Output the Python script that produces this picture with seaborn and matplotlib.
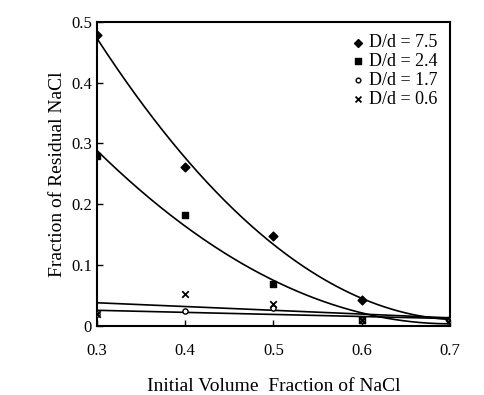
import numpy as np
import pandas as pd
import matplotlib
matplotlib.use("Agg")
import matplotlib.pyplot as plt
import seaborn as sns

x_vals = [0.3, 0.4, 0.5, 0.6, 0.7]
dd75 = [0.478, 0.262, 0.147, 0.042, 0.010]
dd24 = [0.280, 0.183, 0.069, 0.010, 0.010]
dd17 = [0.020, 0.024, 0.030, 0.010, 0.010]
dd06 = [0.020, 0.052, 0.036, 0.010, 0.010]
labels = ["D/d = 7.5", "D/d = 2.4", "D/d = 1.7", "D/d = 0.6"]
x_ticks = [0.3, 0.4, 0.5, 0.6, 0.7]
y_ticks = [0, 0.1, 0.2, 0.3, 0.4, 0.5]
y_tick_labels = ["0", "0.1", "0.2", "0.3", "0.4", "0.5"]

sns.set_theme(style="white")
plt.rcParams['font.family'] = ['Liberation Serif', 'DejaVu Serif']

fig = plt.figure(figsize=(4.84, 3.95), dpi=100)
ax = fig.add_axes([0.2, 0.175, 0.73, 0.77])

series = [dd75, dd24, dd17, dd06]
markers = ["D", "s", "o", "x"]
msizes = [20, 20, 14, 22]
fills = ["black", "black", "white", "black"]
degs = [2, 2, 1, 1]

rows = []
for lab, ys in zip(labels, series):
    for xv, yv in zip(x_vals, ys):
        rows.append({"x": xv, "y": yv, "series": lab})
df = pd.DataFrame(rows)

xs = np.linspace(0.3, 0.7, 200)
for lab, ys, mk, ms, fc, dg in zip(labels, series, markers, msizes, fills, degs):
    coef = np.polyfit(x_vals, ys, dg)
    fit = np.polyval(coef, xs)
    sns.lineplot(x=xs, y=fit, ax=ax, color="black", lw=1.2, legend=False)
    sub = df[df.series == lab]
    if mk == "x":
        ax.scatter(sub.x, sub.y, marker=mk, s=ms, color="black", linewidths=1.3, label=lab, zorder=3)
    else:
        ax.scatter(sub.x, sub.y, marker=mk, s=ms, facecolor=fc, edgecolor="black", linewidths=1.0, label=lab, zorder=3)

ax.set_xlim(0.3, 0.7)
ax.set_ylim(0, 0.5)
ax.set_xticks(x_ticks)
ax.set_yticks(y_ticks)
ax.set_yticklabels(y_tick_labels)
ax.tick_params(axis="both", direction="in", length=4, width=1, colors="black", labelsize=12)
ax.tick_params(axis="x", pad=12)
ax.tick_params(left=True, bottom=True)
for s in ax.spines.values():
    s.set_color("black")
    s.set_linewidth(1.5)

ax.set_xlabel("Initial Volume  Fraction of NaCl", fontsize=14, labelpad=14, color="black")
ax.set_ylabel("Fraction of Residual NaCl", fontsize=14, labelpad=4, color="black")

leg = ax.legend(loc="upper right", frameon=False, fontsize=13, handletextpad=0.1,
                handlelength=1.0, labelspacing=0.1, borderaxespad=0.3, markerscale=0.9)
for t in leg.get_texts():
    t.set_color("black")

fig.savefig("out.png", dpi=100)
